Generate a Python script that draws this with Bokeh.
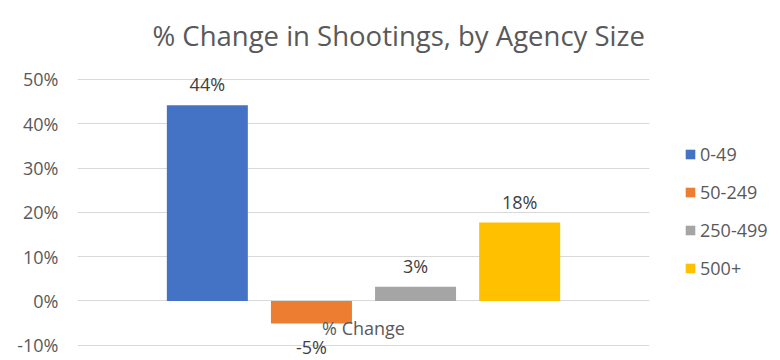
from bokeh.plotting import figure
from bokeh.models import ColumnDataSource, FactorRange, Range1d, FixedTicker, NumeralTickFormatter, Legend, LegendItem, Label
from bokeh.transform import dodge
from bokeh.core.properties import value
from bokeh.embed import file_html
from bokeh.resources import INLINE

# ---- data ----
title_text = "% Change in Shootings, by Agency Size"
category = ["% Change"]
series = ["0-49", "50-249", "250-499", "500+"]
values = [0.442, -0.051, 0.032, 0.177]
labels = ["44%", "-5%", "3%", "18%"]
colors = ["#4472C4", "#ED7D31", "#A5A5A5", "#FFC000"]
y_ticks = [-0.1, 0.0, 0.1, 0.2, 0.3, 0.4, 0.5]

FONT = "Open Sans"
GREY = "#595959"

# the plot area extends above the 50% gridline so the title (a Label) is not clipped
p = figure(x_range=FactorRange(*category, range_padding=0),
           y_range=Range1d(-0.13, 0.6557),
           frame_width=572, frame_height=348,
           min_border_left=77, min_border_top=10, min_border_bottom=0, min_border_right=0,
           output_backend="svg", toolbar_location=None)

p.outline_line_color = None
p.background_fill_color = "white"
p.border_fill_color = "white"

p.xaxis.visible = False
p.xgrid.grid_line_color = None

p.yaxis.ticker = FixedTicker(ticks=y_ticks)
p.yaxis.formatter = NumeralTickFormatter(format="0%")
p.yaxis.axis_line_color = None
p.yaxis.major_tick_line_color = None
p.yaxis.minor_tick_line_color = None
p.yaxis.major_tick_out = 0
p.yaxis.major_label_standoff = 19
p.yaxis.major_label_text_font = FONT
p.yaxis.major_label_text_font_size = "18px"
p.yaxis.major_label_text_color = GREY
p.ygrid.ticker = FixedTicker(ticks=y_ticks)
p.ygrid.grid_line_color = "#D9D9D9"
p.ygrid.grid_line_width = 1

step = 0.182
bar_w = 0.1416
items = []
for i, (s, v, lab, c) in enumerate(zip(series, values, labels, colors)):
    off = (i - (len(series) - 1) / 2) * step
    src = ColumnDataSource(dict(cat=category, val=[v], lab=[lab],
                                yoff=[-21 if v >= 0 else 23]))
    r = p.vbar(x=dodge("cat", off, range=p.x_range), top="val", bottom=0, width=bar_w,
               source=src, fill_color=c, line_color=None)
    p.text(x=dodge("cat", off, range=p.x_range), y="val", text="lab", y_offset="yoff",
           source=src, text_align="center", text_baseline="middle",
           text_font=value(FONT), text_font_size="18px", text_color="#404040")
    items.append(LegendItem(label=s, renderers=[r]))

# category label below the zero line
csrc = ColumnDataSource(dict(cat=category, y=[0.0], t=category))
p.text(x="cat", y="y", text="t", source=csrc, y_offset=27,
       text_align="center", text_baseline="middle",
       text_font=value(FONT), text_font_size="18px", text_color=GREY)

# chart title
p.add_layout(Label(x=0.131, y=0.5993, x_units="data", y_units="data",
                   text=title_text,
                   text_font=FONT, text_font_size="27.5px", text_color=GREY,
                   text_align="left", text_baseline="middle"))

legend = Legend(items=items, location=(35, 78), orientation="vertical",
                border_line_color=None, background_fill_alpha=0,
                label_text_font=FONT, label_text_font_size="18px", label_text_color=GREY,
                glyph_width=12, glyph_height=12, label_height=12, label_standoff=4,
                spacing=14, padding=0, margin=0)
p.add_layout(legend, "right")

open("out.html", "w").write(file_html(p, INLINE))
